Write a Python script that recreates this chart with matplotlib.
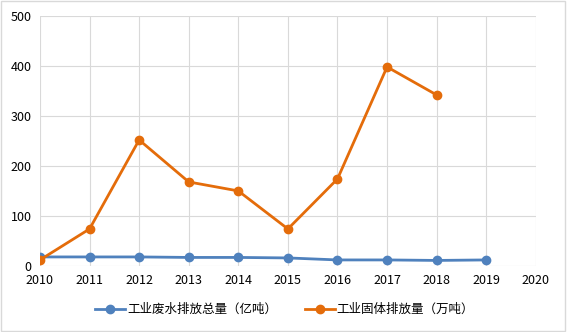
import matplotlib
matplotlib.use('Agg')
import matplotlib.pyplot as plt
from matplotlib.patches import Rectangle

plt.rcParams['font.family'] = ['Noto Sans CJK SC', 'DejaVu Sans']

years_water = [2010, 2011, 2012, 2013, 2014, 2015, 2016, 2017, 2018, 2019]
water = [18, 18, 18, 17, 17, 16, 12, 12, 11, 12]
years_solid = [2010, 2011, 2012, 2013, 2014, 2015, 2016, 2017, 2018]
solid = [12, 74, 252, 168, 150, 74, 174, 398, 342]
label_water = "工业废水排放总量（亿吨）"
label_solid = "工业固体排放量（万吨）"

fig = plt.figure(figsize=(5.67, 3.32), dpi=100)
fig.patch.set_facecolor('white')
fig.patches.append(Rectangle((0.002, 0.003), 0.995, 0.994, transform=fig.transFigure,
                             fill=False, ec='#d9d9d9', lw=1))
ax = fig.add_axes([0.0705, 0.199, 0.8745, 0.753])

ax.plot(years_water, water, color='#4f81bd', lw=2, marker='o', ms=6, label=label_water, zorder=3)
ax.plot(years_solid, solid, color='#e46c0a', lw=2, marker='o', ms=6, label=label_solid, zorder=3)

ax.set_xlim(2010, 2020)
ax.set_ylim(0, 500)
ax.set_xticks(range(2010, 2021))
ax.set_yticks(range(0, 501, 100))
ax.grid(True, color='#d9d9d9', lw=0.8)
for s in ax.spines.values():
    s.set_visible(False)
ax.tick_params(length=0, labelsize=9, colors='#000000', pad=6)
ax.set_axisbelow(True)

fig.legend(loc='center', bbox_to_anchor=(0.502, 0.068), ncol=2, frameon=False,
           fontsize=9, handlelength=2.4, handletextpad=0.15, columnspacing=2.2)

fig.savefig('out.png', dpi=100)
